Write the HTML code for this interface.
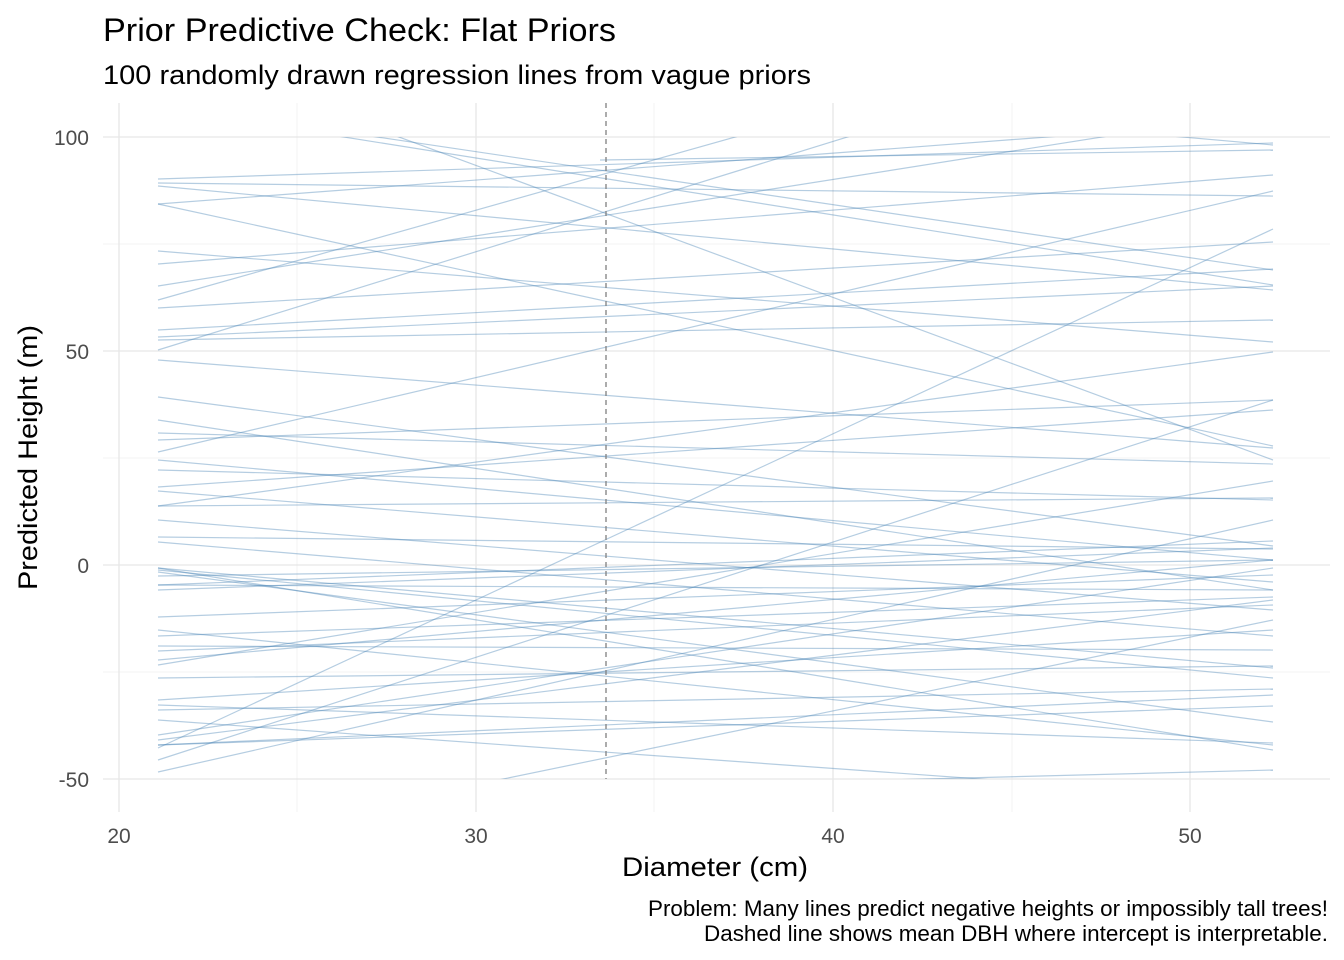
<!DOCTYPE html>
<html><head><meta charset="utf-8"><style>
body{margin:0;background:#fff;}
svg{display:block;font-family:"Liberation Sans",Arial,sans-serif;}
</style></head><body>
<svg width="1344" height="960" viewBox="0 0 1344 960">
<rect width="1344" height="960" fill="#fff"/>
<defs><clipPath id="c"><rect x="103" y="137" width="1227" height="642"/></clipPath></defs>
<g stroke="#f3f3f3" stroke-width="1">
<line x1="297" y1="103" x2="297" y2="812"/><line x1="654" y1="103" x2="654" y2="812"/><line x1="1012" y1="103" x2="1012" y2="812"/>
<line x1="103" y1="244" x2="1330" y2="244"/><line x1="103" y1="458" x2="1330" y2="458"/><line x1="103" y1="672" x2="1330" y2="672"/>
</g>
<g stroke="#e6e6e6" stroke-width="1.3">
<line x1="119" y1="103" x2="119" y2="812"/><line x1="476" y1="103" x2="476" y2="812"/><line x1="833" y1="103" x2="833" y2="812"/><line x1="1190" y1="103" x2="1190" y2="812"/>
<line x1="103" y1="137" x2="1330" y2="137"/><line x1="103" y1="351" x2="1330" y2="351"/><line x1="103" y1="565" x2="1330" y2="565"/><line x1="103" y1="779" x2="1330" y2="779"/>
</g>
<g clip-path="url(#c)" stroke="#4682b4" stroke-opacity="0.4" stroke-width="1.2" fill="none">
<line x1="158" y1="179" x2="1273" y2="143"/>
<line x1="158" y1="183" x2="1273" y2="196"/>
<line x1="158" y1="186" x2="1273" y2="290"/>
<line x1="158" y1="204" x2="1273" y2="446"/>
<line x1="158" y1="204" x2="1273" y2="120"/>
<line x1="158" y1="251" x2="1273" y2="342"/>
<line x1="158" y1="264" x2="1273" y2="175"/>
<line x1="158" y1="286" x2="1273" y2="110"/>
<line x1="158" y1="308" x2="1273" y2="242"/>
<line x1="158" y1="330" x2="1273" y2="269"/>
<line x1="158" y1="337" x2="1273" y2="286"/>
<line x1="158" y1="340" x2="1273" y2="320"/>
<line x1="158" y1="360" x2="1273" y2="448"/>
<line x1="158" y1="397" x2="1273" y2="546"/>
<line x1="158" y1="433" x2="1273" y2="464"/>
<line x1="158" y1="440" x2="1273" y2="400"/>
<line x1="158" y1="452" x2="1273" y2="191"/>
<line x1="158" y1="487" x2="1273" y2="410"/>
<line x1="158" y1="491" x2="1273" y2="582"/>
<line x1="158" y1="506" x2="1273" y2="498"/>
<line x1="158" y1="506" x2="1273" y2="352"/>
<line x1="158" y1="537" x2="1273" y2="549"/>
<line x1="158" y1="542" x2="1273" y2="636"/>
<line x1="158" y1="568" x2="1273" y2="750"/>
<line x1="158" y1="570" x2="1273" y2="678"/>
<line x1="158" y1="576" x2="1273" y2="560"/>
<line x1="158" y1="585" x2="1273" y2="590"/>
<line x1="158" y1="585" x2="1273" y2="541"/>
<line x1="158" y1="617" x2="1273" y2="575"/>
<line x1="158" y1="636" x2="1273" y2="597"/>
<line x1="158" y1="646" x2="1273" y2="650"/>
<line x1="158" y1="651" x2="1273" y2="605"/>
<line x1="158" y1="665" x2="1273" y2="481"/>
<line x1="158" y1="678" x2="1273" y2="666"/>
<line x1="158" y1="705" x2="1273" y2="743"/>
<line x1="158" y1="710" x2="1273" y2="689"/>
<line x1="158" y1="735" x2="1273" y2="568"/>
<line x1="158" y1="745" x2="1273" y2="706"/>
<line x1="158" y1="748" x2="1273" y2="229"/>
<line x1="158" y1="760" x2="1273" y2="400"/>
<line x1="158" y1="772" x2="1273" y2="520"/>
<line x1="158" y1="745" x2="1273" y2="695"/>
<line x1="158" y1="568" x2="1273" y2="668"/>
<line x1="158" y1="572" x2="1273" y2="722"/>
<line x1="158" y1="590" x2="1273" y2="548"/>
<line x1="158" y1="520" x2="1273" y2="610"/>
<line x1="158" y1="460" x2="1273" y2="560"/>
<line x1="158" y1="700" x2="1273" y2="630"/>
<line x1="158" y1="720" x2="1273" y2="800"/>
<line x1="158" y1="740" x2="1273" y2="600"/>
<line x1="300" y1="130" x2="1273" y2="285"/>
<line x1="330" y1="130" x2="1273" y2="270"/>
<line x1="380" y1="130" x2="1273" y2="460"/>
<line x1="158" y1="300" x2="760" y2="130"/>
<line x1="158" y1="350" x2="870" y2="130"/>
<line x1="600" y1="160" x2="1273" y2="150"/>
<line x1="1160" y1="135" x2="1273" y2="145"/>
<line x1="450" y1="790" x2="1273" y2="620"/>
<line x1="500" y1="790" x2="1273" y2="770"/>
<line x1="158" y1="630" x2="1273" y2="745"/>
<line x1="158" y1="420" x2="1273" y2="590"/>
<line x1="158" y1="470" x2="1273" y2="500"/>
<line x1="158" y1="660" x2="1273" y2="560"/>
</g>
<line x1="606" y1="103" x2="606" y2="779" stroke="#808080" stroke-width="1.3" stroke-dasharray="5,4"/>
<g fill="#4d4d4d" font-size="21" text-anchor="end">
<text x="89" y="145">100</text><text x="89" y="359">50</text><text x="89" y="573">0</text><text x="89" y="787">-50</text>
</g>
<g fill="#4d4d4d" font-size="21" text-anchor="middle">
<text x="119" y="843">20</text><text x="476" y="843">30</text><text x="833" y="843">40</text><text x="1190" y="843">50</text>
</g>
<text x="622" y="876" font-size="27" fill="#000" textLength="186" lengthAdjust="spacingAndGlyphs">Diameter (cm)</text>
<text transform="translate(37,590) rotate(-90)" font-size="27" fill="#000" textLength="265" lengthAdjust="spacingAndGlyphs">Predicted Height (m)</text>
<text x="103" y="41" font-size="32" fill="#000" textLength="513" lengthAdjust="spacingAndGlyphs">Prior Predictive Check: Flat Priors</text>
<text x="103" y="84" font-size="27" fill="#000" textLength="708" lengthAdjust="spacingAndGlyphs">100 randomly drawn regression lines from vague priors</text>
<text x="648" y="916" font-size="22" fill="#000" textLength="680" lengthAdjust="spacingAndGlyphs">Problem: Many lines predict negative heights or impossibly tall trees!</text>
<text x="704" y="941" font-size="22" fill="#000" textLength="624" lengthAdjust="spacingAndGlyphs">Dashed line shows mean DBH where intercept is interpretable.</text>
</svg>
</body></html>
